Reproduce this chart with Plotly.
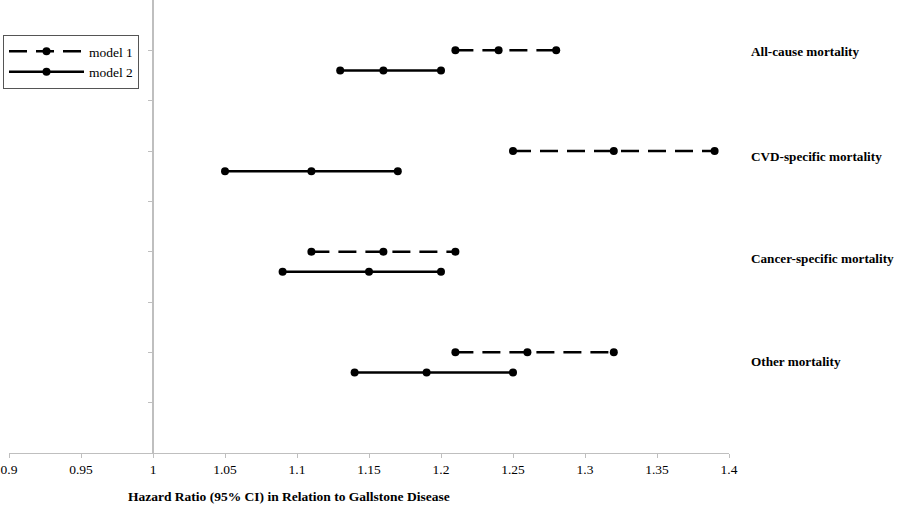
import plotly.graph_objects as go

categories = ["All-cause mortality", "CVD-specific mortality", "Cancer-specific mortality", "Other mortality"]
# [lower CI, HR, upper CI]
model1 = [[1.21, 1.24, 1.28], [1.25, 1.32, 1.39], [1.11, 1.16, 1.21], [1.21, 1.26, 1.32]]
model2 = [[1.13, 1.16, 1.20], [1.05, 1.11, 1.17], [1.09, 1.15, 1.20], [1.14, 1.19, 1.25]]
y_model1 = [8, 6, 4, 2]
y_model2 = [7.6, 5.6, 3.6, 1.6]
label_y = [7.97, 5.9, 3.87, 1.81]
x_ticks = [0.9, 0.95, 1, 1.05, 1.1, 1.15, 1.2, 1.25, 1.3, 1.35, 1.4]
x_title = "Hazard Ratio (95% CI) in Relation to Gallstone Disease"

FONT = "Liberation Serif"
FS = 13.5

fig = go.Figure()

for i, cat in enumerate(categories):
    fig.add_trace(go.Scatter(
        x=model1[i], y=[y_model1[i]] * 3, mode="lines+markers",
        line=dict(color="black", width=2.5, dash="18px,9px"),
        marker=dict(color="black", size=8),
        name="model 1", legendgroup="m1", showlegend=(i == 0)))
    fig.add_trace(go.Scatter(
        x=model2[i], y=[y_model2[i]] * 3, mode="lines+markers",
        line=dict(color="black", width=2.5),
        marker=dict(color="black", size=8),
        name="model 2", legendgroup="m2", showlegend=(i == 0)))

for cat, ly in zip(categories, label_y):
    fig.add_annotation(x=1.4, y=ly, xref="x", yref="y", text="<b>%s</b>" % cat,
                       showarrow=False, xanchor="left", xshift=20,
                       font=dict(family=FONT, size=13.2, color="black"))

fig.add_annotation(x=0.389, y=-0.0965, xref="paper", yref="paper", text="<b>%s</b>" % x_title,
                   showarrow=False, xanchor="center", yanchor="middle",
                   font=dict(family=FONT, size=FS, color="black"))

fig.update_layout(
    width=900, height=508,
    margin=dict(l=9, r=171, t=0, b=55, autoexpand=False),
    plot_bgcolor="white", paper_bgcolor="white",
    font=dict(family=FONT, size=FS, color="black"),
    showlegend=True,
    legend=dict(x=3 / 900, y=1 - 35 / 508, xref="container", yref="container",
                xanchor="left", yanchor="top",
                bordercolor="#555555", borderwidth=1, bgcolor="white",
                font=dict(family=FONT, size=FS, color="black"),
                tracegroupgap=0, itemwidth=75),
    xaxis=dict(range=[0.9, 1.4], tickvals=x_ticks, showgrid=False, zeroline=False,
               showline=True, linecolor="#bfbfbf", linewidth=1, automargin=False,
               ticks="outside", ticklen=4, tickcolor="#bfbfbf",
               tickfont=dict(family=FONT, size=FS, color="black")),
    yaxis=dict(range=[0, 9], tickvals=[1, 2, 3, 4, 5, 6, 7, 8],
               showgrid=False, zeroline=False,
               showline=True, linecolor="#bfbfbf", linewidth=1.5, automargin=False,
               ticks="outside", ticklen=4, tickcolor="#bfbfbf",
               showticklabels=False, anchor="free", position=0.2),
)

fig.write_html("out.html", config={"displayModeBar": False},
               post_script="document.body.style.margin='0';")
